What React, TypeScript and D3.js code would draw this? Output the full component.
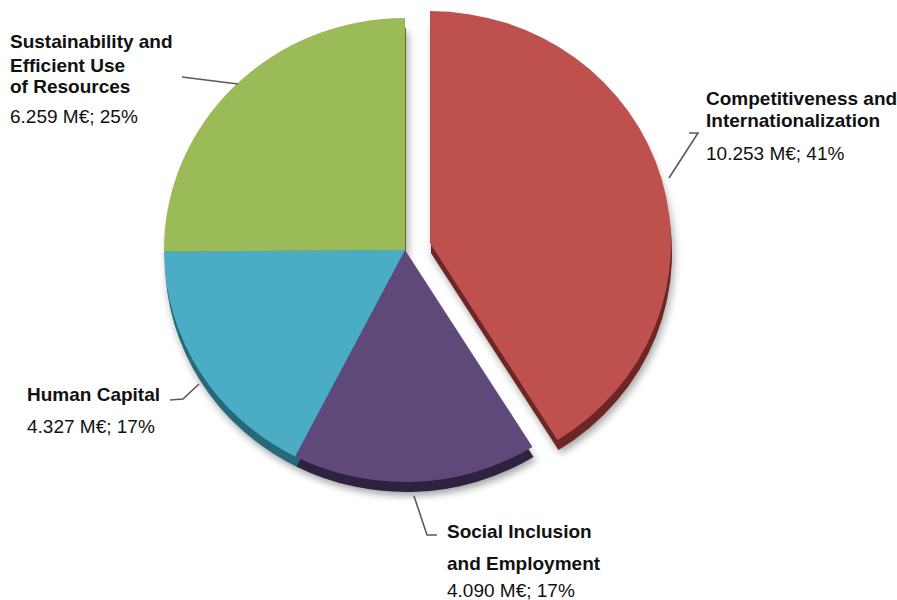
import React from "react";
import * as d3 from "d3";

const categories = [
  "Competitiveness and Internationalization",
  "Social Inclusion and Employment",
  "Human Capital",
  "Sustainability and Efficient Use of Resources",
];
const values = [10253, 4090, 4327, 6259];
const valueLabels = ["10.253", "4.090", "4.327", "6.259"];
const percents = [41, 17, 17, 25];
const colors = ["#BE504D", "#5F497A", "#4BACC6", "#9BBB59"];
const darkColors = ["#6E2624", "#2F2240", "#25697A", "#5A7430"];

const titleLines = [
  ["Competitiveness and", "Internationalization"],
  ["Social Inclusion", "and Employment"],
  ["Human Capital"],
  ["Sustainability and", "Efficient Use", "of Resources"],
];

const labelLayout = [
  { x: 706, ys: [105, 127], vy: 160, line: [[689, 133], [698, 133], [669, 178]] },
  { x: 447, ys: [538, 570], vy: 597, line: [[414, 496], [427, 535], [437, 535]] },
  { x: 27, ys: [401], vy: 433, line: [[170, 400], [183, 399], [199, 384]] },
  { x: 10, ys: [48, 72, 93], vy: 123, line: [[182, 77], [238, 84]] },
];

const W = 897;
const H = 600;
const cx = 405;
const cy = 250;
const rx = 241;
const ry = 232;
const explode = [26, 0, 0, 0];
const depth = 10;

export default function App() {
  const pie = d3.pie<number>().sort(null).value((d) => d);
  const arcs = pie(values);
  const arc = d3.arc<d3.PieArcDatum<number>>().innerRadius(0).outerRadius(rx);
  const sy = ry / rx;

  const offsets = arcs.map((a, i) => {
    const mid = (a.startAngle + a.endAngle) / 2;
    return [Math.sin(mid) * explode[i], -Math.cos(mid) * explode[i] * sy];
  });

  const line = d3.line();

  return (
    <svg width={W} height={H} style={{ display: "block", position: "absolute", left: 0, top: 0 }}>
      <defs>
        <filter id="blur" x="-20%" y="-20%" width="140%" height="140%">
          <feGaussianBlur stdDeviation="4" />
        </filter>
      </defs>
      <rect width={W} height={H} fill="#fff" />
      {arcs.map((a, i) => (
        <g key={`s${i}`} transform={`translate(${cx + offsets[i][0] + 3},${cy + offsets[i][1] + depth + 4}) scale(1,${sy})`}>
          <path d={arc(a)!} fill="#000" opacity={0.35} filter="url(#blur)" />
        </g>
      ))}
      {arcs.map((a, i) => (
        <g key={`e${i}`} transform={`translate(${cx + offsets[i][0] + 1},${cy + offsets[i][1] + depth}) scale(1,${sy})`}>
          <path d={arc(a)!} fill={darkColors[i]} />
        </g>
      ))}
      {arcs.map((a, i) => (
        <g key={`f${i}`} transform={`translate(${cx + offsets[i][0]},${cy + offsets[i][1]}) scale(1,${sy})`}>
          <path d={arc(a)!} fill={colors[i]} />
        </g>
      ))}
      {labelLayout.map((l, i) => (
        <path
          key={`l${i}`}
          d={line(l.line as [number, number][])!}
          fill="none"
          stroke="#5a5a5a"
          strokeWidth={1.6}
        />
      ))}
      {labelLayout.map((l, i) => (
        <g key={`t${i}`} fontFamily="'Liberation Sans', Arial, sans-serif" fontSize={19} fill="#111">
          {titleLines[i].map((t, j) => (
            <text key={j} x={l.x} y={l.ys[j]} fontWeight="bold">
              {t}
            </text>
          ))}
          <text x={l.x} y={l.vy}>{`${valueLabels[i]} M€; ${percents[i]}%`}</text>
        </g>
      ))}
    </svg>
  );
}
